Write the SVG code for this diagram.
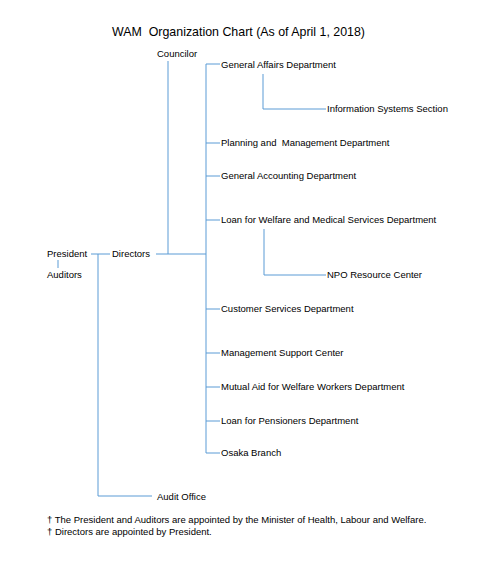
<svg xmlns="http://www.w3.org/2000/svg" width="500" height="562" viewBox="0 0 500 562">
<style>
text{font-family:"Liberation Sans",Arial,sans-serif;font-size:9.5px;fill:#000}
.title{font-size:12.4px}
.ln{stroke:#5b9bd5;stroke-width:1;fill:none}
</style>
<rect width="500" height="562" fill="#fff"/>
<text class="title" x="112" y="36" xml:space="preserve">WAM  Organization Chart (As of April 1, 2018)</text>
<g id="connectors">
<path class="ln" d="M91 254H110"/>
<path class="ln" d="M58 260V268"/>
<path class="ln" d="M98 254V496H152"/>
<path class="ln" d="M156 254H206"/>
<path class="ln" d="M168 61V254"/>
<path class="ln" d="M220 64H206V453H220"/>
<path class="ln" d="M206 143H220M206 176H220M206 220H220M206 309H220M206 353H220M206 387H220M206 421H220"/>
<path class="ln" d="M263 74V109H326"/>
<path class="ln" d="M264 229V275H326"/>
</g>
<g id="president"><text x="47" y="257">President</text></g>
<g id="auditors"><text x="47" y="278">Auditors</text></g>
<g id="directors"><text x="112" y="257">Directors</text></g>
<g id="councilor"><text x="157" y="57">Councilor</text></g>
<g id="audit-office"><text x="157" y="500">Audit Office</text></g>
<g id="general-affairs"><text x="221" y="68">General Affairs Department</text></g>
<g id="info-systems"><text x="327" y="112">Information Systems Section</text></g>
<g id="planning"><text x="221" y="146" xml:space="preserve">Planning and  Management Department</text></g>
<g id="general-accounting"><text x="221" y="179">General Accounting Department</text></g>
<g id="loan-welfare"><text x="221" y="223">Loan for Welfare and Medical Services Department</text></g>
<g id="npo"><text x="327" y="278">NPO Resource Center</text></g>
<g id="customer"><text x="221" y="312">Customer Services Department</text></g>
<g id="mgmt-support"><text x="221" y="356">Management Support Center</text></g>
<g id="mutual-aid"><text x="221" y="390">Mutual Aid for Welfare Workers Department</text></g>
<g id="loan-pensioners"><text x="221" y="424">Loan for Pensioners Department</text></g>
<g id="osaka"><text x="221" y="456">Osaka Branch</text></g>
<g id="notes">
<text x="47" y="523">† The President and Auditors are appointed by the Minister of Health, Labour and Welfare.</text>
<text x="47" y="535">† Directors are appointed by President.</text>
</g>
</svg>
